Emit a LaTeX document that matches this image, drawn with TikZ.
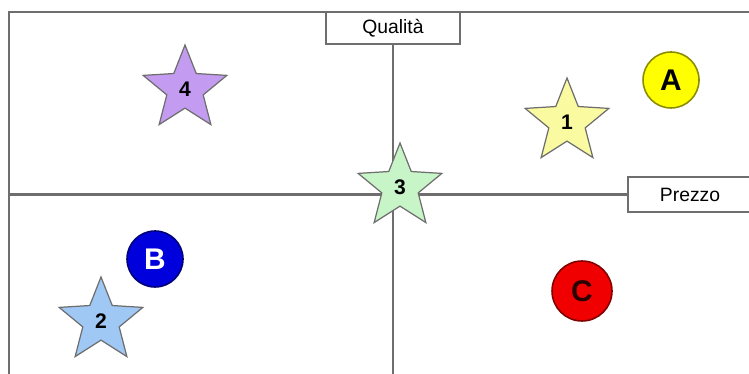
\documentclass[tikz,border=0pt]{standalone}
\usepackage{fontspec}
\setmainfont{Liberation Sans}
\usetikzlibrary{shapes.geometric}

\definecolor{axisgray}{RGB}{110,110,110}
\definecolor{lavender}{RGB}{195,155,240}
\definecolor{paleyellow}{RGB}{250,250,160}
\definecolor{palegreen}{RGB}{200,245,200}
\definecolor{paleblue}{RGB}{160,200,245}

\begin{document}
\begin{tikzpicture}[
    x=0.02cm, y=-0.02cm,
    axis/.style={draw=axisgray, line width=1.3pt},
    axislbl/.style={draw=axisgray, line width=1.1pt, fill=white, inner sep=0pt, font=\fontsize{11}{13}\selectfont},
    prod/.style={star, star points=5, star point ratio=2.3, draw=axisgray, line width=0.7pt, minimum size=1.76cm, inner sep=0pt, font=\fontsize{12}{14}\selectfont\bfseries},
    rival/.style={circle, line width=0.9pt, minimum size=1.12cm, inner sep=0pt, font=\fontsize{17}{20}\selectfont\bfseries}
  ]
  \useasboundingbox (0,0) rectangle (749,374);
  \coordinate (tl) at (9,12);
  \coordinate (tr) at (749,12);
  \coordinate (bl) at (9,374);
  \coordinate (left) at (9,194.5);
  \coordinate (bottom) at (393,374);
  \draw[axis] (tr) -- (tl) -- (bl);
  \node[axislbl, minimum width=2.68cm, minimum height=0.64cm] (quality) at (393,28) {Qualità};
  \node[axislbl, minimum width=2.48cm, minimum height=0.7cm] (price) at (690,194.5) {Prezzo};
  \draw[axis] (quality.south) -- (bottom);
  \draw[axis] (left) -- (price.west);
  % products
  \node[prod, fill=lavender] (p4) at (185,89) {4};
  \node[prod, fill=paleyellow] (p1) at (567,122) {1};
  \node[prod, fill=palegreen] (p3) at (400,187) {3};
  \node[prod, fill=paleblue] (p2) at (101,321) {2};
  % competitors
  \node[rival, fill={rgb,255:red,255;green,255;blue,0}, draw={rgb,255:red,140;green,140;blue,0}] (ca) at (671,80) {A};
  \node[rival, fill={rgb,255:red,0;green,0;blue,220}, draw={rgb,255:red,0;green,0;blue,120}, text=white] (cb) at (155,259) {B};
  \node[rival, fill={rgb,255:red,240;green,0;blue,0}, draw={rgb,255:red,130;green,0;blue,0}, text={rgb,255:red,40;green,0;blue,0}, minimum size=1.2cm] (cc) at (582,291) {C};
\end{tikzpicture}
\end{document}
